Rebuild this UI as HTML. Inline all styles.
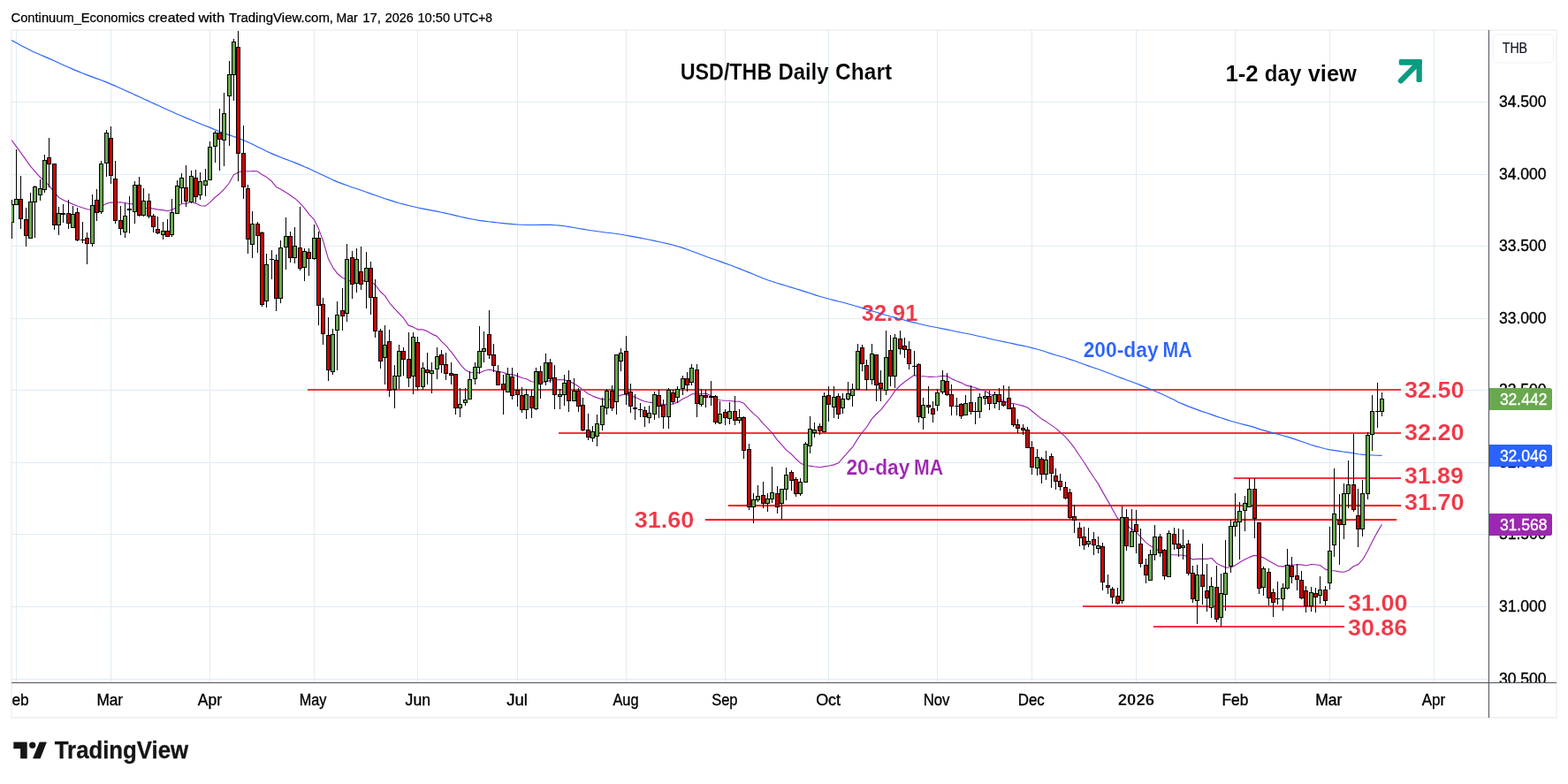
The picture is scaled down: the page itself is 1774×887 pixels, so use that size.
<!DOCTYPE html>
<html lang="en"><head><meta charset="utf-8"><title>USD/THB Daily Chart</title>
<style>html,body{margin:0;padding:0;background:#fff;}body{width:1774px;height:887px;overflow:hidden;}svg{display:block;}text{font-family:"Liberation Sans", Arial, sans-serif;}.c{shape-rendering:crispEdges;}</style>
</head><body>
<svg width="1774" height="887" viewBox="0 0 1774 887">
<rect x="0" y="0" width="1774" height="887" fill="#ffffff"/>
<defs><clipPath id="pane"><rect x="13" y="34" width="1671" height="738"/></clipPath><clipPath id="paxis"><rect x="1685" y="35" width="75" height="737"/></clipPath><clipPath id="taxis"><rect x="14" y="773" width="1670" height="38"/></clipPath></defs>
<rect class="c" x="13" y="34" width="1748" height="778" fill="none" stroke="#f3f3f3" stroke-width="2"/>
<path class="c" d="M18 34h1v738h-1zM125 34h1v738h-1zM237 34h1v738h-1zM355 34h1v738h-1zM472 34h1v738h-1zM585 34h1v738h-1zM708 34h1v738h-1zM820 34h1v738h-1zM937 34h1v738h-1zM1060 34h1v738h-1zM1167 34h1v738h-1zM1285 34h1v738h-1zM1397 34h1v738h-1zM1504 34h1v738h-1zM1622 34h1v738h-1zM13 115h1671v1h-1671zM13 197h1671v1h-1671zM13 278h1671v1h-1671zM13 360h1671v1h-1671zM13 441h1671v1h-1671zM13 523h1671v1h-1671zM13 604h1671v1h-1671zM13 686h1671v1h-1671zM13 768h1671v1h-1671z" fill="#e1ecf2"/>
<g clip-path="url(#pane)">
<rect class="c" x="348" y="440" width="1237" height="2" fill="#f23645"/>
<rect class="c" x="632" y="489" width="953" height="2" fill="#f23645"/>
<rect class="c" x="1396" y="540" width="189" height="2" fill="#f23645"/>
<rect class="c" x="824" y="571" width="761" height="2" fill="#ff0000"/>
<rect class="c" x="798" y="587" width="782" height="2" fill="#ff0000"/>
<rect class="c" x="1225" y="685" width="296" height="2" fill="#f23645"/>
<rect class="c" x="1305" y="708" width="216" height="2" fill="#f23645"/>
</g>
<text y="89.90" font-size="25.65" fill="#000" font-weight="bold" stroke="#fff" stroke-width="0.15"><tspan x="769.73" textLength="103.49" lengthAdjust="spacingAndGlyphs">USD/THB</tspan> <tspan x="880.39" textLength="57.16" lengthAdjust="spacingAndGlyphs">Daily</tspan> <tspan x="945.10" textLength="64.04" lengthAdjust="spacingAndGlyphs">Chart</tspan></text>
<text y="91.85" font-size="25.94" fill="#000" font-weight="bold" stroke="#fff" stroke-width="0.15"><tspan x="1386.38" textLength="37.26" lengthAdjust="spacingAndGlyphs">1-2</tspan> <tspan x="1430.77" textLength="41.57" lengthAdjust="spacingAndGlyphs">day</tspan> <tspan x="1479.66" textLength="55.29" lengthAdjust="spacingAndGlyphs">view</tspan></text>
<text y="362.90" font-size="26.30" fill="#f23645" font-weight="bold" stroke="#fff" stroke-width="0.15"><tspan x="974.83" textLength="63.53" lengthAdjust="spacingAndGlyphs">32.91</tspan></text>
<text y="403.85" font-size="23.20" fill="#2962ff" font-weight="bold" stroke="#fff" stroke-width="0.15"><tspan x="1225.68" textLength="84.92" lengthAdjust="spacingAndGlyphs">200-day</tspan> <tspan x="1315.50" textLength="33.04" lengthAdjust="spacingAndGlyphs">MA</tspan></text>
<text y="536.85" font-size="23.20" fill="#9c27b0" font-weight="bold" stroke="#fff" stroke-width="0.15"><tspan x="957.44" textLength="71.94" lengthAdjust="spacingAndGlyphs">20-day</tspan> <tspan x="1034.10" textLength="33.04" lengthAdjust="spacingAndGlyphs">MA</tspan></text>
<text y="596.90" font-size="26.30" fill="#f23645" font-weight="bold" stroke="#fff" stroke-width="0.15"><tspan x="717.89" textLength="67.50" lengthAdjust="spacingAndGlyphs">31.60</tspan></text>
<text y="449.95" font-size="26.30" fill="#f23645" font-weight="bold" stroke="#fff" stroke-width="0.15"><tspan x="1589.00" textLength="67.35" lengthAdjust="spacingAndGlyphs">32.50</tspan></text>
<text y="497.80" font-size="26.30" fill="#f23645" font-weight="bold" stroke="#fff" stroke-width="0.15"><tspan x="1589.00" textLength="67.35" lengthAdjust="spacingAndGlyphs">32.20</tspan></text>
<text y="546.90" font-size="26.30" fill="#f23645" font-weight="bold" stroke="#fff" stroke-width="0.15"><tspan x="1589.02" textLength="66.73" lengthAdjust="spacingAndGlyphs">31.89</tspan></text>
<text y="576.90" font-size="26.30" fill="#f23645" font-weight="bold" stroke="#fff" stroke-width="0.15"><tspan x="1589.00" textLength="67.35" lengthAdjust="spacingAndGlyphs">31.70</tspan></text>
<text y="690.90" font-size="26.30" fill="#f23645" font-weight="bold" stroke="#fff" stroke-width="0.15"><tspan x="1525.00" textLength="67.35" lengthAdjust="spacingAndGlyphs">31.00</tspan></text>
<text y="719.05" font-size="26.30" fill="#f23645" font-weight="bold" stroke="#fff" stroke-width="0.15"><tspan x="1525.00" textLength="67.11" lengthAdjust="spacingAndGlyphs">30.86</tspan></text>
<g clip-path="url(#pane)">
<polyline points="13.2,45.6 18.5,48.5 23.8,51.4 29.2,54.2 34.5,56.9 39.9,59.4 45.2,61.8 50.6,64.1 55.9,66.4 61.3,68.8 66.6,71.2 72.0,73.7 77.3,76.1 82.6,78.4 88.0,80.6 93.3,82.8 98.7,84.9 104.0,86.9 109.4,88.9 114.7,90.8 120.1,92.9 125.4,95.1 130.8,97.4 136.1,99.8 141.4,102.2 146.8,104.6 152.1,107.1 157.5,109.5 162.8,112.0 168.2,114.4 173.5,116.9 178.9,119.2 184.2,121.7 189.6,124.2 194.9,126.5 200.2,128.9 205.6,131.3 210.9,133.6 216.3,135.7 221.6,138.0 227.0,140.2 232.3,142.3 237.7,144.4 243.0,146.6 248.4,148.7 253.7,150.7 259.0,152.6 264.4,154.5 269.7,156.4 275.1,158.5 280.4,160.8 285.8,163.3 291.1,165.9 296.5,168.6 301.8,171.2 307.2,173.6 312.5,175.9 317.8,178.0 323.2,180.1 328.5,182.0 333.9,184.1 339.2,186.4 344.6,188.7 349.9,190.9 355.3,193.5 360.6,196.1 366.0,198.6 371.3,201.1 376.6,203.6 382.0,205.9 387.3,207.9 392.7,209.8 398.0,211.7 403.4,213.5 408.7,215.3 414.1,217.2 419.4,219.1 424.8,221.0 430.1,222.8 435.5,224.7 440.8,226.4 446.1,228.1 451.5,229.7 456.8,231.1 462.2,232.5 467.5,233.8 472.9,235.0 478.2,236.1 483.6,237.1 488.9,238.1 494.3,239.1 499.6,240.2 504.9,241.4 510.3,242.6 515.6,243.9 521.0,245.2 526.3,246.4 531.7,247.5 537.0,248.5 542.4,249.4 547.7,250.1 553.1,250.8 558.4,251.4 563.7,252.0 569.1,252.6 574.4,253.1 579.8,253.6 585.1,254.0 590.5,254.3 595.8,254.5 601.2,254.5 606.5,254.5 611.9,254.4 617.2,254.3 622.5,254.4 627.9,254.7 633.2,255.1 638.6,255.8 643.9,256.6 649.3,257.5 654.6,258.5 660.0,259.4 665.3,260.2 670.7,261.0 676.0,261.8 681.3,262.5 686.7,263.2 692.0,263.8 697.4,264.5 702.7,265.3 708.1,266.2 713.4,267.1 718.8,268.1 724.1,269.1 729.5,270.2 734.8,271.3 740.1,272.4 745.5,273.5 750.8,274.7 756.2,275.9 761.5,277.2 766.9,278.7 772.2,280.4 777.6,282.2 782.9,284.2 788.3,286.2 793.6,288.2 798.9,290.3 804.3,292.2 809.6,294.0 815.0,295.9 820.3,297.9 825.7,299.8 831.0,301.8 836.4,303.9 841.7,306.0 847.1,308.1 852.4,310.3 857.7,312.5 863.1,314.7 868.4,316.7 873.8,318.5 879.1,320.3 884.5,321.9 889.8,323.5 895.2,325.1 900.5,326.7 905.9,328.4 911.2,330.1 916.5,331.8 921.9,333.6 927.2,335.3 932.6,336.8 937.9,338.3 943.3,339.6 948.6,341.0 954.0,342.3 959.3,343.7 964.7,345.2 970.0,346.8 975.3,348.4 980.7,350.1 986.0,351.7 991.4,353.3 996.7,354.9 1002.1,356.5 1007.4,358.0 1012.8,359.4 1018.1,360.8 1023.5,362.2 1028.8,363.6 1034.1,364.9 1039.5,366.3 1044.8,367.5 1050.2,368.7 1055.5,369.8 1060.9,370.8 1066.2,371.9 1071.6,372.9 1076.9,374.0 1082.3,375.2 1087.6,376.3 1092.9,377.3 1098.3,378.3 1103.6,379.5 1109.0,380.7 1114.3,381.8 1119.7,383.2 1125.0,384.5 1130.4,385.5 1135.7,386.6 1141.1,387.7 1146.4,388.9 1151.7,390.1 1157.1,391.1 1162.4,392.3 1167.8,393.6 1173.1,395.0 1178.5,396.5 1183.8,398.2 1189.2,400.1 1194.5,401.8 1199.9,403.3 1205.2,404.8 1210.6,406.6 1215.9,408.3 1221.2,410.3 1226.6,412.2 1231.9,414.1 1237.3,416.0 1242.6,417.8 1248.0,419.7 1253.3,421.8 1258.7,423.8 1264.0,426.0 1269.4,427.9 1274.7,430.0 1280.0,431.8 1285.4,433.8 1290.7,435.9 1296.1,438.1 1301.4,440.3 1306.8,442.5 1312.1,444.8 1317.5,447.3 1322.8,449.7 1328.2,452.3 1333.5,455.2 1338.8,457.4 1344.2,459.6 1349.5,461.6 1354.9,463.6 1360.2,465.6 1365.6,467.3 1370.9,469.1 1376.3,471.1 1381.6,472.8 1387.0,474.6 1392.3,476.3 1397.6,477.8 1403.0,479.3 1408.3,480.6 1413.7,481.9 1419.0,483.4 1424.4,485.4 1429.7,486.9 1435.1,488.4 1440.4,489.7 1445.8,491.2 1451.1,492.7 1456.4,494.1 1461.8,495.9 1467.1,497.6 1472.5,499.5 1477.8,501.3 1483.2,503.2 1488.5,504.9 1493.9,506.3 1499.2,507.7 1504.6,508.9 1509.9,509.6 1515.2,510.4 1520.6,511.2 1525.9,511.9 1531.3,512.7 1536.6,513.8 1542.0,514.4 1547.3,514.7 1552.7,515.0 1558.0,515.2 1563.4,515.4" fill="none" stroke="#2962ff" stroke-width="1.15" stroke-linejoin="round"/>
<polyline points="13.2,158.5 18.5,165.8 23.8,173.2 29.2,180.7 34.5,188.2 39.9,194.3 45.2,200.3 50.6,205.0 55.9,210.3 61.3,217.3 66.6,223.4 72.0,226.5 77.3,228.8 82.6,231.1 88.0,233.3 93.3,235.0 98.7,236.8 104.0,237.4 109.4,235.3 114.7,233.4 120.1,230.4 125.4,229.0 130.8,229.1 136.1,228.7 141.4,229.5 146.8,230.8 152.1,230.6 157.5,233.7 162.8,235.8 168.2,235.3 173.5,236.1 178.9,237.1 184.2,237.6 189.6,238.8 194.9,237.3 200.2,234.2 205.6,230.5 210.9,230.3 216.3,228.2 221.6,230.1 227.0,232.8 232.3,233.1 237.7,228.9 243.0,223.5 248.4,219.2 253.7,213.8 259.0,207.5 264.4,197.7 269.7,195.0 275.1,193.3 280.4,194.0 285.8,193.5 291.1,193.8 296.5,197.6 301.8,200.6 307.2,204.8 312.5,211.6 317.8,214.2 323.2,217.6 328.5,221.1 333.9,224.7 339.2,229.7 344.6,235.6 349.9,242.7 355.3,248.3 360.6,259.1 366.0,273.8 371.3,292.4 376.6,302.6 382.0,309.8 387.3,314.2 392.7,316.2 398.0,318.9 403.4,316.4 408.7,317.5 414.1,317.9 419.4,317.9 424.8,322.6 430.1,329.7 435.5,334.6 440.8,342.8 446.1,348.9 451.5,354.5 456.8,360.2 462.2,368.1 467.5,369.9 472.9,372.9 478.2,372.8 483.6,374.9 488.9,378.1 494.3,380.4 499.6,386.3 504.9,391.4 510.3,397.9 515.6,404.9 521.0,412.6 526.3,418.4 531.7,421.2 537.0,421.5 542.4,421.9 547.7,419.5 553.1,418.3 558.4,419.1 563.7,420.6 569.1,421.2 574.4,423.4 579.8,423.9 585.1,425.4 590.5,427.5 595.8,428.8 601.2,431.7 606.5,432.2 611.9,432.7 617.2,432.0 622.5,430.4 627.9,429.8 633.2,429.5 638.6,429.7 643.9,431.6 649.3,433.9 654.6,437.2 660.0,441.4 665.3,445.5 670.7,448.1 676.0,450.1 681.3,451.9 686.7,451.7 692.0,452.4 697.4,449.3 702.7,446.9 708.1,446.1 713.4,448.1 718.8,449.4 724.1,452.1 729.5,454.3 734.8,455.3 740.1,455.3 745.5,456.6 750.8,457.5 756.2,457.4 761.5,457.2 766.9,454.9 772.2,451.6 777.6,448.9 782.9,445.7 788.3,445.6 793.6,445.8 798.9,445.2 804.3,447.6 809.6,451.5 815.0,452.7 820.3,453.3 825.7,453.5 831.0,454.1 836.4,454.2 841.7,456.3 847.1,462.6 852.4,467.9 857.7,472.4 863.1,478.8 868.4,484.3 873.8,490.2 879.1,497.4 884.5,503.3 889.8,509.4 895.2,513.7 900.5,519.3 905.9,524.1 911.2,526.7 916.5,527.1 921.9,528.0 927.2,528.8 932.6,527.9 937.9,527.0 943.3,525.9 948.6,523.8 954.0,517.7 959.3,511.7 964.7,505.7 970.0,497.1 975.3,489.4 980.7,483.0 986.0,474.4 991.4,468.5 996.7,463.6 1002.1,456.7 1007.4,450.0 1012.8,441.9 1018.1,436.5 1023.5,432.0 1028.8,428.2 1034.1,424.6 1039.5,425.7 1044.8,425.8 1050.2,426.3 1055.5,426.3 1060.9,426.0 1066.2,425.2 1071.6,425.5 1076.9,428.6 1082.3,431.0 1087.6,433.1 1092.9,435.9 1098.3,437.4 1103.6,438.7 1109.0,440.9 1114.3,442.0 1119.7,445.8 1125.0,448.4 1130.4,451.3 1135.7,453.7 1141.1,456.1 1146.4,456.5 1151.7,457.8 1157.1,459.1 1162.4,461.0 1167.8,465.2 1173.1,469.6 1178.5,474.1 1183.8,477.1 1189.2,480.9 1194.5,484.6 1199.9,489.3 1205.2,494.2 1210.6,500.3 1215.9,507.2 1221.2,515.2 1226.6,523.2 1231.9,531.6 1237.3,539.7 1242.6,547.6 1248.0,557.4 1253.3,566.6 1258.7,576.1 1264.0,586.0 1269.4,589.9 1274.7,594.3 1280.0,598.5 1285.4,601.8 1290.7,607.7 1296.1,613.4 1301.4,617.6 1306.8,620.4 1312.1,623.5 1317.5,626.8 1322.8,627.5 1328.2,627.8 1333.5,628.0 1338.8,628.3 1344.2,629.9 1349.5,632.9 1354.9,632.4 1360.2,632.4 1365.6,632.4 1370.9,631.5 1376.3,637.2 1381.6,639.9 1387.0,642.3 1392.3,641.9 1397.6,639.6 1403.0,636.0 1408.3,633.1 1413.7,630.4 1419.0,628.4 1424.4,629.1 1429.7,631.1 1435.1,634.2 1440.4,637.2 1445.8,640.2 1451.1,641.1 1456.4,639.2 1461.8,639.3 1467.1,638.9 1472.5,638.9 1477.8,640.0 1483.2,638.5 1488.5,638.8 1493.9,639.7 1499.2,643.9 1504.6,645.5 1509.9,645.7 1515.2,646.9 1520.6,647.2 1525.9,645.3 1531.3,640.8 1536.6,638.6 1542.0,632.7 1547.3,623.2 1552.7,612.6 1558.0,602.6 1563.4,593.2" fill="none" stroke="#9c27b0" stroke-width="1.15" stroke-linejoin="round"/>
<path class="c" d="M13 226h1v44h-1zM11 231h5v21h-5zM18 169h1v63h-1zM16 225h5v7h-5zM23 199h1v60h-1zM21 225h5v23h-5zM29 235h1v44h-1zM27 248h5v19h-5zM34 218h1v52h-1zM32 228h5v42h-5zM39 210h1v59h-1zM37 211h5v18h-5zM45 203h1v24h-1zM43 213h5v8h-5zM50 175h1v43h-1zM48 181h5v34h-5zM55 156h1v56h-1zM53 178h5v8h-5zM61 185h1v75h-1zM59 185h5v70h-5zM66 234h1v32h-1zM64 241h5v14h-5zM71 231h1v21h-1zM69 241h5v2h-5zM77 226h1v33h-1zM75 241h5v12h-5zM82 233h1v25h-1zM80 242h5v16h-5zM87 235h1v38h-1zM85 240h5v32h-5zM93 251h1v24h-1zM91 271h5v1h-5zM98 263h1v36h-1zM96 269h5v7h-5zM104 220h1v59h-1zM102 232h5v44h-5zM109 214h1v36h-1zM107 226h5v15h-5zM114 182h1v60h-1zM112 185h5v55h-5zM120 147h1v53h-1zM118 150h5v35h-5zM125 143h1v65h-1zM123 156h5v43h-5zM130 182h1v71h-1zM128 202h5v48h-5zM136 233h1v33h-1zM134 249h5v10h-5zM141 230h1v39h-1zM139 244h5v19h-5zM146 222h1v42h-1zM144 236h5v2h-5zM152 205h1v48h-1zM150 209h5v31h-5zM157 200h1v45h-1zM155 209h5v35h-5zM162 213h1v32h-1zM160 227h5v17h-5zM168 219h1v28h-1zM166 227h5v18h-5zM173 242h1v21h-1zM171 244h5v13h-5zM178 245h1v20h-1zM176 259h5v5h-5zM184 251h1v20h-1zM182 261h5v5h-5zM189 248h1v20h-1zM187 261h5v7h-5zM194 225h1v43h-1zM192 240h5v26h-5zM200 204h1v38h-1zM198 210h5v32h-5zM205 196h1v34h-1zM203 201h5v12h-5zM210 187h1v47h-1zM208 212h5v16h-5zM216 193h1v37h-1zM214 199h5v30h-5zM221 192h1v37h-1zM219 201h5v22h-5zM226 195h1v31h-1zM224 205h5v16h-5zM232 191h1v31h-1zM230 204h5v6h-5zM237 160h1v44h-1zM235 166h5v38h-5zM243 148h1v36h-1zM241 150h5v16h-5zM248 123h1v70h-1zM246 150h5v8h-5zM253 105h1v83h-1zM251 128h5v31h-5zM259 69h1v96h-1zM257 84h5v25h-5zM264 44h1v70h-1zM262 47h5v38h-5zM269 35h1v170h-1zM267 53h5v121h-5zM275 142h1v83h-1zM273 173h5v39h-5zM280 209h1v78h-1zM278 213h5v58h-5zM285 239h1v53h-1zM283 253h5v24h-5zM291 251h1v35h-1zM289 253h5v14h-5zM296 262h1v85h-1zM294 263h5v82h-5zM301 287h1v61h-1zM299 299h5v42h-5zM307 283h1v33h-1zM305 293h5v1h-5zM312 288h1v64h-1zM310 294h5v44h-5zM317 272h1v71h-1zM315 280h5v58h-5zM323 246h1v59h-1zM321 267h5v13h-5zM328 262h1v35h-1zM326 267h5v25h-5zM333 257h1v41h-1zM331 278h5v14h-5zM339 234h1v72h-1zM337 280h5v24h-5zM344 281h1v37h-1zM342 284h5v19h-5zM349 281h1v31h-1zM347 285h5v8h-5zM355 254h1v40h-1zM353 269h5v24h-5zM360 262h1v106h-1zM358 269h5v77h-5zM365 337h1v53h-1zM363 344h5v34h-5zM371 359h1v72h-1zM369 379h5v40h-5zM376 372h1v52h-1zM374 378h5v43h-5zM381 341h1v78h-1zM379 356h5v18h-5zM387 326h1v48h-1zM385 351h5v7h-5zM392 276h1v88h-1zM390 293h5v62h-5zM398 284h1v54h-1zM396 291h5v31h-5zM403 281h1v50h-1zM401 293h5v28h-5zM408 279h1v49h-1zM406 307h5v15h-5zM414 285h1v64h-1zM412 303h5v16h-5zM419 296h1v60h-1zM417 303h5v34h-5zM424 316h1v66h-1zM422 336h5v39h-5zM430 372h1v45h-1zM428 374h5v35h-5zM435 368h1v67h-1zM433 390h5v15h-5zM440 373h1v76h-1zM438 386h5v56h-5zM446 413h1v49h-1zM444 425h5v16h-5zM451 390h1v50h-1zM449 397h5v29h-5zM456 393h1v32h-1zM454 397h5v10h-5zM462 376h1v62h-1zM460 406h5v22h-5zM467 376h1v70h-1zM465 381h5v45h-5zM472 381h1v61h-1zM470 387h5v51h-5zM478 410h1v31h-1zM476 416h5v22h-5zM483 399h1v36h-1zM481 418h5v4h-5zM488 410h1v35h-1zM486 419h5v4h-5zM494 393h1v36h-1zM492 403h5v15h-5zM499 396h1v26h-1zM497 401h5v12h-5zM504 399h1v31h-1zM502 412h5v11h-5zM510 410h1v25h-1zM508 422h5v3h-5zM515 423h1v46h-1zM513 423h5v39h-5zM520 439h1v33h-1zM518 457h5v5h-5zM526 439h1v20h-1zM524 452h5v4h-5zM531 420h1v32h-1zM529 429h5v23h-5zM537 410h1v25h-1zM535 415h5v14h-5zM542 369h1v54h-1zM540 397h5v19h-5zM547 375h1v35h-1zM545 394h5v4h-5zM553 351h1v55h-1zM551 378h5v24h-5zM558 389h1v32h-1zM556 401h5v13h-5zM563 413h1v23h-1zM561 420h5v16h-5zM569 424h1v45h-1zM567 434h5v7h-5zM574 416h1v28h-1zM572 423h5v21h-5zM579 416h1v36h-1zM577 426h5v22h-5zM585 422h1v38h-1zM583 441h5v6h-5zM590 438h1v29h-1zM588 447h5v17h-5zM595 440h1v34h-1zM593 446h5v18h-5zM601 441h1v32h-1zM599 448h5v14h-5zM606 416h1v48h-1zM604 420h5v43h-5zM611 414h1v37h-1zM609 420h5v15h-5zM617 400h1v36h-1zM615 410h5v22h-5zM622 406h1v27h-1zM620 410h5v19h-5zM627 413h1v50h-1zM625 427h5v20h-5zM633 440h1v23h-1zM631 446h5v3h-5zM638 424h1v35h-1zM636 433h5v14h-5zM643 419h1v47h-1zM641 430h5v24h-5zM649 428h1v26h-1zM647 442h5v12h-5zM654 439h1v27h-1zM652 442h5v18h-5zM659 450h1v38h-1zM657 458h5v29h-5zM665 468h1v30h-1zM663 486h5v9h-5zM670 482h1v18h-1zM668 488h5v8h-5zM675 469h1v36h-1zM673 479h5v15h-5zM681 450h1v37h-1zM679 459h5v22h-5zM686 440h1v29h-1zM684 442h5v20h-5zM692 436h1v29h-1zM690 442h5v20h-5zM697 401h1v68h-1zM695 401h5v54h-5zM702 394h1v26h-1zM700 399h5v10h-5zM708 380h1v78h-1zM706 397h5v49h-5zM713 434h1v33h-1zM711 443h5v17h-5zM718 446h1v29h-1zM716 461h5v2h-5zM724 456h1v16h-1zM722 463h5v1h-5zM729 460h1v23h-1zM727 464h5v8h-5zM734 459h1v20h-1zM732 467h5v6h-5zM740 443h1v32h-1zM738 446h5v23h-5zM745 441h1v32h-1zM743 447h5v13h-5zM750 452h1v33h-1zM748 458h5v14h-5zM756 439h1v46h-1zM754 441h5v31h-5zM761 441h1v16h-1zM759 444h5v11h-5zM766 437h1v19h-1zM764 440h5v10h-5zM772 425h1v22h-1zM770 428h5v12h-5zM777 421h1v22h-1zM775 428h5v8h-5zM782 412h1v24h-1zM780 416h5v17h-5zM788 412h1v60h-1zM786 418h5v39h-5zM793 440h1v20h-1zM791 447h5v11h-5zM798 441h1v20h-1zM796 447h5v3h-5zM804 431h1v28h-1zM802 448h5v2h-5zM809 447h1v33h-1zM807 448h5v30h-5zM814 454h1v26h-1zM812 468h5v11h-5zM820 463h1v18h-1zM818 466h5v7h-5zM825 455h1v25h-1zM823 465h5v9h-5zM831 448h1v33h-1zM829 465h5v11h-5zM836 463h1v16h-1zM834 472h5v4h-5zM841 471h1v48h-1zM839 472h5v38h-5zM847 502h1v75h-1zM845 508h5v66h-5zM852 558h1v34h-1zM850 565h5v9h-5zM857 549h1v19h-1zM855 561h5v5h-5zM863 545h1v30h-1zM861 560h5v10h-5zM868 558h1v21h-1zM866 564h5v6h-5zM873 528h1v41h-1zM871 557h5v8h-5zM879 550h1v31h-1zM877 558h5v16h-5zM884 553h1v35h-1zM882 553h5v17h-5zM889 529h1v37h-1zM887 537h5v17h-5zM895 532h1v23h-1zM893 534h5v10h-5zM900 540h1v22h-1zM898 542h5v17h-5zM905 541h1v20h-1zM903 545h5v14h-5zM911 500h1v46h-1zM909 502h5v44h-5zM916 471h1v42h-1zM914 485h5v20h-5zM921 478h1v17h-1zM919 486h5v4h-5zM927 479h1v13h-1zM925 482h5v6h-5zM932 444h1v45h-1zM930 448h5v41h-5zM937 437h1v40h-1zM935 447h5v11h-5zM943 437h1v36h-1zM941 449h5v12h-5zM948 445h1v29h-1zM946 448h5v21h-5zM953 445h1v23h-1zM951 451h5v11h-5zM959 432h1v21h-1zM957 445h5v7h-5zM964 434h1v26h-1zM962 440h5v8h-5zM970 389h1v52h-1zM968 397h5v44h-5zM975 390h1v30h-1zM973 393h5v19h-5zM980 407h1v35h-1zM978 413h5v17h-5zM986 389h1v46h-1zM984 400h5v30h-5zM991 401h1v53h-1zM989 401h5v35h-5zM996 419h1v35h-1zM994 433h5v7h-5zM1002 374h1v73h-1zM1000 404h5v38h-5zM1007 379h1v58h-1zM1005 396h5v30h-5zM1012 378h1v61h-1zM1010 382h5v44h-5zM1018 374h1v27h-1zM1016 383h5v12h-5zM1023 382h1v23h-1zM1021 391h5v5h-5zM1028 386h1v32h-1zM1026 395h5v17h-5zM1034 397h1v28h-1zM1032 414h5v1h-5zM1039 411h1v67h-1zM1037 412h5v60h-5zM1044 450h1v36h-1zM1042 458h5v15h-5zM1050 437h1v31h-1zM1048 458h5v3h-5zM1055 454h1v24h-1zM1053 462h5v7h-5zM1060 440h1v25h-1zM1058 444h5v15h-5zM1066 419h1v27h-1zM1064 430h5v14h-5zM1071 422h1v26h-1zM1069 431h5v16h-5zM1076 435h1v35h-1zM1074 446h5v14h-5zM1082 450h1v20h-1zM1080 459h5v1h-5zM1087 456h1v18h-1zM1085 457h5v14h-5zM1092 447h1v23h-1zM1090 456h5v14h-5zM1098 436h1v33h-1zM1096 455h5v11h-5zM1103 455h1v25h-1zM1101 465h5v1h-5zM1108 445h1v28h-1zM1106 449h5v17h-5zM1114 443h1v15h-1zM1112 448h5v3h-5zM1119 442h1v22h-1zM1117 448h5v9h-5zM1125 443h1v19h-1zM1123 446h5v11h-5zM1130 439h1v25h-1zM1128 446h5v9h-5zM1135 436h1v24h-1zM1133 454h5v5h-5zM1141 437h1v26h-1zM1139 450h5v13h-5zM1146 457h1v26h-1zM1144 461h5v20h-5zM1151 474h1v16h-1zM1149 480h5v5h-5zM1157 480h1v12h-1zM1155 484h5v3h-5zM1162 483h1v24h-1zM1160 486h5v21h-5zM1167 499h1v38h-1zM1165 506h5v23h-5zM1173 508h1v30h-1zM1171 517h5v13h-5zM1178 517h1v30h-1zM1176 519h5v18h-5zM1183 510h1v33h-1zM1181 520h5v17h-5zM1189 513h1v39h-1zM1187 516h5v20h-5zM1194 530h1v24h-1zM1192 538h5v7h-5zM1199 536h1v19h-1zM1197 544h5v7h-5zM1205 545h1v20h-1zM1203 551h5v13h-5zM1210 553h1v34h-1zM1208 557h5v29h-5zM1215 571h1v32h-1zM1213 584h5v5h-5zM1221 591h1v27h-1zM1219 597h5v12h-5zM1226 596h1v26h-1zM1224 607h5v10h-5zM1231 597h1v22h-1zM1229 612h5v4h-5zM1237 602h1v26h-1zM1235 610h5v7h-5zM1242 607h1v19h-1zM1240 617h5v4h-5zM1247 614h1v54h-1zM1245 618h5v41h-5zM1253 650h1v22h-1zM1251 662h5v3h-5zM1258 664h1v19h-1zM1256 666h5v10h-5zM1264 665h1v19h-1zM1262 674h5v9h-5zM1269 573h1v110h-1zM1267 585h5v95h-5zM1274 576h1v47h-1zM1272 585h5v33h-5zM1280 576h1v43h-1zM1278 601h5v18h-5zM1285 577h1v49h-1zM1283 593h5v9h-5zM1290 598h1v44h-1zM1288 615h5v23h-5zM1296 632h1v28h-1zM1294 639h5v12h-5zM1301 622h1v35h-1zM1299 627h5v30h-5zM1306 594h1v40h-1zM1304 607h5v21h-5zM1312 604h1v26h-1zM1310 607h5v19h-5zM1317 621h1v35h-1zM1315 622h5v30h-5zM1322 600h1v53h-1zM1320 603h5v50h-5zM1328 597h1v25h-1zM1326 604h5v12h-5zM1333 598h1v32h-1zM1331 615h5v6h-5zM1338 599h1v34h-1zM1336 617h5v3h-5zM1344 611h1v40h-1zM1342 615h5v34h-5zM1349 640h1v42h-1zM1347 648h5v30h-5zM1354 639h1v67h-1zM1352 650h5v30h-5zM1360 615h1v69h-1zM1358 650h5v14h-5zM1365 638h1v54h-1zM1363 668h5v9h-5zM1370 653h1v46h-1zM1368 663h5v25h-5zM1376 640h1v64h-1zM1374 664h5v37h-5zM1381 649h1v60h-1zM1379 671h5v28h-5zM1386 611h1v80h-1zM1384 648h5v25h-5zM1392 588h1v60h-1zM1390 595h5v46h-5zM1397 558h1v49h-1zM1395 590h5v6h-5zM1402 568h1v65h-1zM1400 578h5v13h-5zM1408 561h1v40h-1zM1406 569h5v9h-5zM1413 541h1v33h-1zM1411 553h5v21h-5zM1419 541h1v68h-1zM1417 553h5v34h-5zM1424 591h1v81h-1zM1422 591h5v75h-5zM1429 641h1v33h-1zM1427 643h5v22h-5zM1435 643h1v42h-1zM1433 647h5v30h-5zM1440 666h1v32h-1zM1438 670h5v12h-5zM1445 658h1v26h-1zM1443 677h5v1h-5zM1451 660h1v31h-1zM1449 665h5v13h-5zM1456 621h1v46h-1zM1454 639h5v27h-5zM1461 630h1v30h-1zM1459 640h5v13h-5zM1467 638h1v30h-1zM1465 651h5v5h-5zM1472 646h1v32h-1zM1470 656h5v21h-5zM1477 663h1v30h-1zM1475 668h5v18h-5zM1483 664h1v28h-1zM1481 670h5v16h-5zM1488 665h1v28h-1zM1486 671h5v5h-5zM1493 652h1v31h-1zM1491 667h5v7h-5zM1499 663h1v22h-1zM1497 667h5v13h-5zM1504 596h1v71h-1zM1502 623h5v37h-5zM1509 530h1v100h-1zM1507 581h5v36h-5zM1515 559h1v80h-1zM1513 588h5v6h-5zM1520 547h1v63h-1zM1518 558h5v36h-5zM1525 521h1v54h-1zM1523 548h5v11h-5zM1531 491h1v88h-1zM1529 548h5v29h-5zM1536 553h1v66h-1zM1534 583h5v16h-5zM1541 543h1v64h-1zM1539 558h5v41h-5zM1547 489h1v76h-1zM1545 492h5v67h-5zM1552 447h1v63h-1zM1550 465h5v27h-5zM1558 433h1v51h-1zM1556 465h5v1h-5zM1563 444h1v27h-1zM1561 451h5v15h-5z" fill="#000"/>
<path class="c" d="M12 232h3v19h-3zM17 226h3v5h-3zM33 229h3v40h-3zM38 212h3v16h-3zM44 214h3v6h-3zM49 182h3v32h-3zM65 242h3v12h-3zM81 243h3v14h-3zM103 233h3v42h-3zM113 186h3v53h-3zM119 151h3v33h-3zM140 245h3v17h-3zM151 210h3v29h-3zM161 228h3v15h-3zM183 262h3v3h-3zM193 241h3v24h-3zM199 211h3v30h-3zM204 202h3v10h-3zM215 200h3v28h-3zM225 206h3v14h-3zM231 205h3v4h-3zM236 167h3v36h-3zM242 151h3v14h-3zM252 129h3v29h-3zM258 85h3v23h-3zM263 48h3v36h-3zM284 254h3v22h-3zM300 300h3v40h-3zM316 281h3v56h-3zM322 268h3v11h-3zM332 279h3v12h-3zM343 285h3v17h-3zM354 270h3v22h-3zM375 379h3v41h-3zM380 357h3v16h-3zM391 294h3v60h-3zM402 294h3v26h-3zM413 304h3v14h-3zM434 391h3v13h-3zM445 426h3v14h-3zM450 398h3v27h-3zM466 382h3v43h-3zM477 417h3v20h-3zM487 420h3v2h-3zM493 404h3v13h-3zM519 458h3v3h-3zM525 453h3v2h-3zM530 430h3v21h-3zM536 416h3v12h-3zM541 398h3v17h-3zM546 395h3v2h-3zM573 424h3v19h-3zM594 447h3v16h-3zM605 421h3v41h-3zM616 411h3v20h-3zM632 447h3v1h-3zM637 434h3v12h-3zM648 443h3v10h-3zM669 489h3v6h-3zM674 480h3v13h-3zM680 460h3v20h-3zM685 443h3v18h-3zM696 402h3v52h-3zM701 400h3v8h-3zM733 468h3v4h-3zM739 447h3v21h-3zM755 442h3v29h-3zM765 441h3v8h-3zM771 429h3v10h-3zM781 417h3v15h-3zM792 448h3v9h-3zM813 469h3v9h-3zM824 466h3v7h-3zM835 473h3v2h-3zM851 566h3v7h-3zM856 562h3v3h-3zM867 565h3v4h-3zM872 558h3v6h-3zM883 554h3v15h-3zM888 538h3v15h-3zM904 546h3v12h-3zM910 503h3v42h-3zM915 486h3v18h-3zM920 487h3v2h-3zM931 449h3v39h-3zM942 450h3v10h-3zM952 452h3v9h-3zM958 446h3v5h-3zM963 441h3v6h-3zM969 398h3v42h-3zM985 401h3v28h-3zM1001 405h3v36h-3zM1011 383h3v42h-3zM1043 459h3v13h-3zM1059 445h3v13h-3zM1065 431h3v12h-3zM1091 457h3v12h-3zM1107 450h3v15h-3zM1113 449h3v1h-3zM1124 447h3v9h-3zM1172 518h3v11h-3zM1182 521h3v15h-3zM1230 613h3v2h-3zM1241 618h3v2h-3zM1268 586h3v93h-3zM1279 602h3v16h-3zM1300 628h3v28h-3zM1305 608h3v19h-3zM1321 604h3v48h-3zM1337 618h3v1h-3zM1353 651h3v28h-3zM1369 664h3v23h-3zM1380 672h3v26h-3zM1385 649h3v23h-3zM1391 596h3v44h-3zM1396 591h3v4h-3zM1401 579h3v11h-3zM1407 570h3v7h-3zM1412 554h3v19h-3zM1428 644h3v20h-3zM1450 666h3v11h-3zM1455 640h3v25h-3zM1482 671h3v14h-3zM1492 668h3v5h-3zM1503 624h3v35h-3zM1508 582h3v34h-3zM1519 559h3v34h-3zM1524 549h3v9h-3zM1540 559h3v39h-3zM1546 493h3v65h-3zM1551 466h3v25h-3zM1562 452h3v13h-3z" fill="#6aa84f"/>
<path class="c" d="M22 226h3v21h-3zM28 249h3v17h-3zM54 179h3v6h-3zM60 186h3v68h-3zM76 242h3v10h-3zM86 241h3v30h-3zM97 270h3v5h-3zM108 227h3v13h-3zM124 157h3v41h-3zM129 203h3v46h-3zM135 250h3v8h-3zM156 210h3v33h-3zM167 228h3v16h-3zM172 245h3v11h-3zM177 260h3v3h-3zM188 262h3v5h-3zM209 213h3v14h-3zM220 202h3v20h-3zM247 151h3v6h-3zM268 54h3v119h-3zM274 174h3v37h-3zM279 214h3v56h-3zM290 254h3v12h-3zM295 264h3v80h-3zM311 295h3v42h-3zM327 268h3v23h-3zM338 281h3v22h-3zM348 286h3v6h-3zM359 270h3v75h-3zM364 345h3v32h-3zM370 380h3v38h-3zM386 352h3v5h-3zM397 292h3v29h-3zM407 308h3v13h-3zM418 304h3v32h-3zM423 337h3v37h-3zM429 375h3v33h-3zM439 387h3v54h-3zM455 398h3v8h-3zM461 407h3v20h-3zM471 388h3v49h-3zM482 419h3v2h-3zM498 402h3v10h-3zM503 413h3v9h-3zM509 423h3v1h-3zM514 424h3v37h-3zM552 379h3v22h-3zM557 402h3v11h-3zM562 421h3v14h-3zM568 435h3v5h-3zM578 427h3v20h-3zM584 442h3v4h-3zM589 448h3v15h-3zM600 449h3v12h-3zM610 421h3v13h-3zM621 411h3v17h-3zM626 428h3v18h-3zM642 431h3v22h-3zM653 443h3v16h-3zM658 459h3v27h-3zM664 487h3v7h-3zM691 443h3v18h-3zM707 398h3v47h-3zM712 444h3v15h-3zM728 465h3v6h-3zM744 448h3v11h-3zM749 459h3v12h-3zM760 445h3v9h-3zM776 429h3v6h-3zM787 419h3v37h-3zM797 448h3v1h-3zM808 449h3v28h-3zM819 467h3v5h-3zM830 466h3v9h-3zM840 473h3v36h-3zM846 509h3v64h-3zM862 561h3v8h-3zM878 559h3v14h-3zM894 535h3v8h-3zM899 543h3v15h-3zM926 483h3v4h-3zM936 448h3v9h-3zM947 449h3v19h-3zM974 394h3v17h-3zM979 414h3v15h-3zM990 402h3v33h-3zM995 434h3v5h-3zM1006 397h3v28h-3zM1017 384h3v10h-3zM1022 392h3v3h-3zM1027 396h3v15h-3zM1038 413h3v58h-3zM1049 459h3v1h-3zM1054 463h3v5h-3zM1070 432h3v14h-3zM1075 447h3v12h-3zM1086 458h3v12h-3zM1097 456h3v9h-3zM1118 449h3v7h-3zM1129 447h3v7h-3zM1134 455h3v3h-3zM1140 451h3v11h-3zM1145 462h3v18h-3zM1150 481h3v3h-3zM1156 485h3v1h-3zM1161 487h3v19h-3zM1166 507h3v21h-3zM1177 520h3v16h-3zM1188 517h3v18h-3zM1193 539h3v5h-3zM1198 545h3v5h-3zM1204 552h3v11h-3zM1209 558h3v27h-3zM1214 585h3v3h-3zM1220 598h3v10h-3zM1225 608h3v8h-3zM1236 611h3v5h-3zM1246 619h3v39h-3zM1252 663h3v1h-3zM1257 667h3v8h-3zM1263 675h3v7h-3zM1273 586h3v31h-3zM1284 594h3v7h-3zM1289 616h3v21h-3zM1295 640h3v10h-3zM1311 608h3v17h-3zM1316 623h3v28h-3zM1327 605h3v10h-3zM1332 616h3v4h-3zM1343 616h3v32h-3zM1348 649h3v28h-3zM1359 651h3v12h-3zM1364 669h3v7h-3zM1375 665h3v35h-3zM1418 554h3v32h-3zM1423 592h3v73h-3zM1434 648h3v28h-3zM1439 671h3v10h-3zM1460 641h3v11h-3zM1466 652h3v3h-3zM1471 657h3v19h-3zM1476 669h3v16h-3zM1487 672h3v3h-3zM1498 668h3v11h-3zM1514 589h3v4h-3zM1530 549h3v27h-3zM1535 584h3v14h-3z" fill="#cc0000"/>
</g>
<g fill="#0b9b81"><rect x="1582.7" y="67.1" width="26.1" height="6.6" rx="1.7"/><rect x="1602.5" y="67.1" width="6.3" height="25.9" rx="1.7"/><path d="M1584.9 91.4L1605.4 70.6" fill="none" stroke="#0b9b81" stroke-width="6.2" stroke-linecap="round"/></g>
<g clip-path="url(#paxis)">
<text y="120.65" font-size="18.52" fill="#000" stroke="#000" stroke-width="0.35"><tspan x="1696.04" textLength="53.46" lengthAdjust="spacingAndGlyphs">34.500</tspan></text>
<text y="202.65" font-size="18.52" fill="#000" stroke="#000" stroke-width="0.35"><tspan x="1696.04" textLength="53.46" lengthAdjust="spacingAndGlyphs">34.000</tspan></text>
<text y="283.65" font-size="18.52" fill="#000" stroke="#000" stroke-width="0.35"><tspan x="1696.04" textLength="53.46" lengthAdjust="spacingAndGlyphs">33.500</tspan></text>
<text y="365.65" font-size="18.52" fill="#000" stroke="#000" stroke-width="0.35"><tspan x="1696.04" textLength="53.46" lengthAdjust="spacingAndGlyphs">33.000</tspan></text>
<text y="446.65" font-size="18.52" fill="#000" stroke="#000" stroke-width="0.35"><tspan x="1696.04" textLength="53.46" lengthAdjust="spacingAndGlyphs">32.500</tspan></text>
<text y="528.65" font-size="18.52" fill="#000" stroke="#000" stroke-width="0.35"><tspan x="1696.04" textLength="53.46" lengthAdjust="spacingAndGlyphs">32.000</tspan></text>
<text y="609.65" font-size="18.52" fill="#000" stroke="#000" stroke-width="0.35"><tspan x="1696.04" textLength="53.46" lengthAdjust="spacingAndGlyphs">31.500</tspan></text>
<text y="691.65" font-size="18.52" fill="#000" stroke="#000" stroke-width="0.35"><tspan x="1696.04" textLength="53.46" lengthAdjust="spacingAndGlyphs">31.000</tspan></text>
<text y="773.65" font-size="18.52" fill="#000" stroke="#000" stroke-width="0.35"><tspan x="1696.04" textLength="53.46" lengthAdjust="spacingAndGlyphs">30.500</tspan></text>
<path d="M1685 439H1753.5a2.5 2.5 0 0 1 2.5 2.5V461.5a2.5 2.5 0 0 1 -2.5 2.5H1685Z" fill="#6aa84f"/>
<text y="457.85" font-size="18.52" fill="#fff" stroke="#fff" stroke-width="0.35"><tspan x="1696.89" textLength="53.59" lengthAdjust="spacingAndGlyphs">32.442</tspan></text>
<path d="M1685 503H1753.5a2.5 2.5 0 0 1 2.5 2.5V525.5a2.5 2.5 0 0 1 -2.5 2.5H1685Z" fill="#2962ff"/>
<text y="521.85" font-size="18.52" fill="#fff" stroke="#fff" stroke-width="0.35"><tspan x="1696.89" textLength="53.59" lengthAdjust="spacingAndGlyphs">32.046</tspan></text>
<path d="M1685 581H1753.5a2.5 2.5 0 0 1 2.5 2.5V603.5a2.5 2.5 0 0 1 -2.5 2.5H1685Z" fill="#9c27b0"/>
<text y="599.85" font-size="18.52" fill="#fff" stroke="#fff" stroke-width="0.35"><tspan x="1696.89" textLength="53.59" lengthAdjust="spacingAndGlyphs">31.568</tspan></text>
</g>
<rect x="1689.5" y="39" width="68" height="32" rx="4.5" ry="4.5" fill="#fff" stroke="#f0f0f0" stroke-width="1"/>
<text y="59.90" font-size="16.28" fill="#131722" stroke="#131722" stroke-width="0.20"><tspan x="1699.74" textLength="28.31" lengthAdjust="spacingAndGlyphs">THB</tspan></text>
<path class="c" d="M1684 34h1v778h-1zM13 772h1748v1h-1748z" fill="#4c525e"/>
<g clip-path="url(#taxis)">
<text y="797.90" font-size="18.16" fill="#000" stroke="#000" stroke-width="0.35"><tspan x="2.84" textLength="29.81" lengthAdjust="spacingAndGlyphs">Feb</tspan></text>
<text y="797.90" font-size="18.16" fill="#000" stroke="#000" stroke-width="0.35"><tspan x="109.39" textLength="29.75" lengthAdjust="spacingAndGlyphs">Mar</tspan></text>
<text y="797.90" font-size="18.16" fill="#000" stroke="#000" stroke-width="0.35"><tspan x="223.87" textLength="27.19" lengthAdjust="spacingAndGlyphs">Apr</tspan></text>
<text y="797.90" font-size="18.16" fill="#000" stroke="#000" stroke-width="0.35"><tspan x="338.71" textLength="30.73" lengthAdjust="spacingAndGlyphs">May</tspan></text>
<text y="797.90" font-size="18.16" fill="#000" stroke="#000" stroke-width="0.35"><tspan x="458.62" textLength="28.40" lengthAdjust="spacingAndGlyphs">Jun</tspan></text>
<text y="797.90" font-size="18.16" fill="#000" stroke="#000" stroke-width="0.35"><tspan x="573.18" textLength="23.73" lengthAdjust="spacingAndGlyphs">Jul</tspan></text>
<text y="797.90" font-size="18.16" fill="#000" stroke="#000" stroke-width="0.35"><tspan x="693.38" textLength="29.10" lengthAdjust="spacingAndGlyphs">Aug</tspan></text>
<text y="797.90" font-size="18.16" fill="#000" stroke="#000" stroke-width="0.35"><tspan x="805.26" textLength="29.26" lengthAdjust="spacingAndGlyphs">Sep</tspan></text>
<text y="797.90" font-size="18.16" fill="#000" stroke="#000" stroke-width="0.35"><tspan x="923.14" textLength="27.94" lengthAdjust="spacingAndGlyphs">Oct</tspan></text>
<text y="797.90" font-size="18.16" fill="#000" stroke="#000" stroke-width="0.35"><tspan x="1044.69" textLength="29.83" lengthAdjust="spacingAndGlyphs">Nov</tspan></text>
<text y="797.90" font-size="18.16" fill="#000" stroke="#000" stroke-width="0.35"><tspan x="1151.76" textLength="30.00" lengthAdjust="spacingAndGlyphs">Dec</tspan></text>
<text y="797.95" font-size="18.73" fill="#000" font-weight="bold" stroke="#fff" stroke-width="0.30"><tspan x="1264.80" textLength="41.29" lengthAdjust="spacingAndGlyphs">2026</tspan></text>
<text y="797.90" font-size="18.16" fill="#000" stroke="#000" stroke-width="0.35"><tspan x="1382.54" textLength="29.81" lengthAdjust="spacingAndGlyphs">Feb</tspan></text>
<text y="797.90" font-size="18.16" fill="#000" stroke="#000" stroke-width="0.35"><tspan x="1488.24" textLength="30.19" lengthAdjust="spacingAndGlyphs">Mar</tspan></text>
<text y="797.90" font-size="18.16" fill="#000" stroke="#000" stroke-width="0.35"><tspan x="1608.67" textLength="26.49" lengthAdjust="spacingAndGlyphs">Apr</tspan></text>
</g>
<text y="25.00" font-size="15.27" fill="#000" stroke="#000" stroke-width="0.25"><tspan x="12.59" textLength="151.10" lengthAdjust="spacingAndGlyphs">Continuum_Economics</tspan> <tspan x="167.67" textLength="52.79" lengthAdjust="spacingAndGlyphs">created</tspan> <tspan x="224.55" textLength="29.62" lengthAdjust="spacingAndGlyphs">with</tspan> <tspan x="258.91" textLength="118.14" lengthAdjust="spacingAndGlyphs">TradingView.com,</tspan> <tspan x="380.48" textLength="24.18" lengthAdjust="spacingAndGlyphs">Mar</tspan> <tspan x="410.20" textLength="20.75" lengthAdjust="spacingAndGlyphs">17,</tspan> <tspan x="435.83" textLength="31.97" lengthAdjust="spacingAndGlyphs">2026</tspan> <tspan x="472.39" textLength="36.80" lengthAdjust="spacingAndGlyphs">10:50</tspan> <tspan x="512.98" textLength="44.04" lengthAdjust="spacingAndGlyphs">UTC+8</tspan></text>
<g fill="#151515"><path d="M15.3 839.4H30.7V858.2H23.1V847.0H15.3Z"/><circle cx="36.7" cy="843.1" r="3.65"/><path d="M44.7 839.4H52.9L45.6 858.2H37.0Z"/></g>
<text y="858.20" font-size="27.09" fill="#151515" font-weight="bold" stroke="#151515" stroke-width="0.30"><tspan x="61.79" textLength="151.34" lengthAdjust="spacingAndGlyphs">TradingView</tspan></text>
</svg></body></html>
